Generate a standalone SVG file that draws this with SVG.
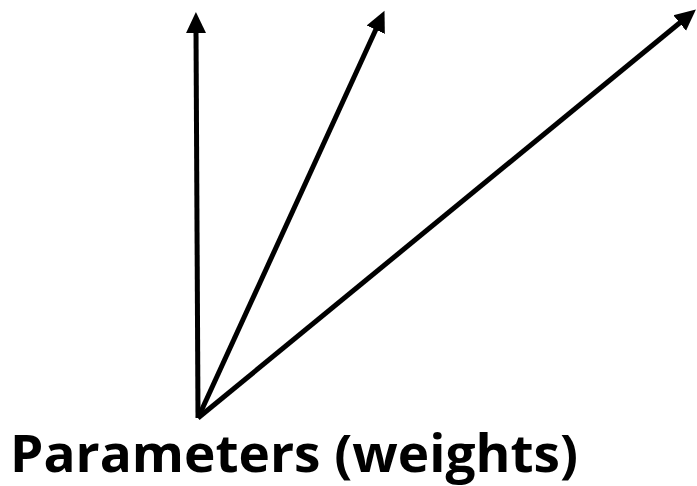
<svg xmlns="http://www.w3.org/2000/svg" width="697" height="486" viewBox="0 0 697 486">
<style>
.conn{stroke:#000;stroke-width:5;fill:none;marker-end:url(#ah)}
.lbl{font-family:"Open Sans","Liberation Sans",sans-serif;font-weight:bold;font-size:52px;fill:#000}
</style>
<defs>
<marker id="ah" markerUnits="userSpaceOnUse" markerWidth="22" markerHeight="22" viewBox="0 0 22 22" refX="3" refY="11" orient="auto">
<path d="M0,1 L21,11 L0,21 Z" fill="#000"/>
</marker>
</defs>
<rect width="697" height="486" fill="#fff"/>
<g id="connectors">
<line class="conn" x1="198" y1="418" x2="196" y2="30"/>
<line class="conn" x1="198" y1="418" x2="377" y2="27"/>
<line class="conn" x1="198" y1="418" x2="682" y2="21"/>
</g>
<g id="label">
<text class="lbl" x="10" y="472" textLength="568" lengthAdjust="spacingAndGlyphs">Parameters (weights)</text>
</g>
</svg>
